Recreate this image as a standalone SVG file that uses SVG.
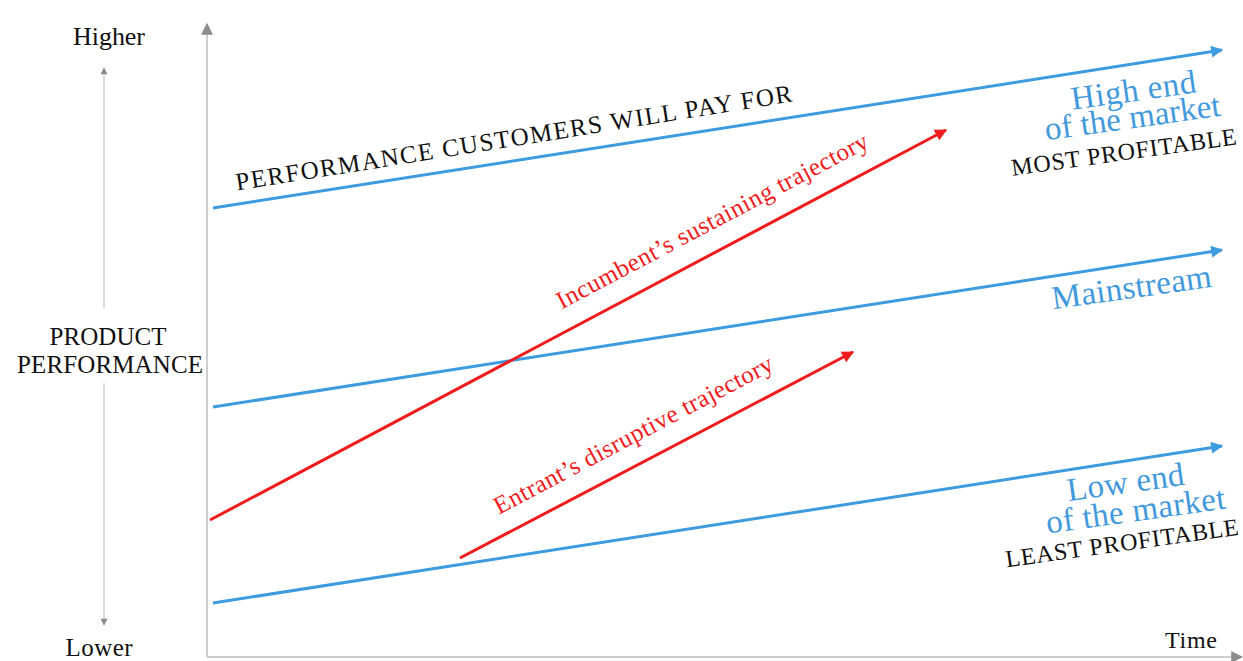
<svg xmlns="http://www.w3.org/2000/svg" width="1243" height="661" viewBox="0 0 1243 661">
  <style>
    text { font-family: "Liberation Serif", "Times New Roman", serif; }
    .lbl { fill: #111; }
    .blu { fill: #4299dc; }
    .red { fill: #ee1c1c; }
    .axis { stroke: #cfcfcf; stroke-width: 2; fill: none; }
    .tick { stroke: #cfcfcf; stroke-width: 1.5; fill: none; }
    .mkt { stroke: #3d9be0; stroke-width: 3; fill: none; marker-end: url(#headBlue); }
    .traj { stroke: #ee1c1c; stroke-width: 3; fill: none; marker-end: url(#headRed); }
  </style>
  <defs>
    <marker id="headBlue" viewBox="0 0 10 10" refX="9" refY="5" markerWidth="20" markerHeight="12" orient="auto" markerUnits="userSpaceOnUse">
      <path d="M0,0 L10,5 L0,10 Z" fill="#3d9be0"/>
    </marker>
    <marker id="headRed" viewBox="0 0 10 10" refX="9" refY="5" markerWidth="20" markerHeight="12" orient="auto" markerUnits="userSpaceOnUse">
      <path d="M0,0 L10,5 L0,10 Z" fill="#ee1c1c"/>
    </marker>
    <marker id="headGray" viewBox="0 0 10 10" refX="9" refY="5" markerWidth="15" markerHeight="12" orient="auto" markerUnits="userSpaceOnUse">
      <path d="M0,0 L10,5 L0,10 Z" fill="#8c8c8c"/>
    </marker>
    <marker id="headSmall" viewBox="0 0 10 10" refX="9" refY="5" markerWidth="8" markerHeight="7" orient="auto" markerUnits="userSpaceOnUse">
      <path d="M0,0 L10,5 L0,10 Z" fill="#8c8c8c"/>
    </marker>
  </defs>

  <rect width="1243" height="661" fill="#ffffff"/>

  <!-- chart axes -->
  <g id="axes">
    <line class="axis" x1="207" y1="657" x2="207" y2="24" marker-end="url(#headGray)"/>
    <line class="axis" x1="207" y1="657" x2="1242" y2="657" marker-end="url(#headGray)"/>
  </g>

  <!-- performance scale at the left -->
  <g id="scale">
    <text class="lbl" x="109" y="45" font-size="26" textLength="72" text-anchor="middle">Higher</text>
    <line class="tick" x1="104" y1="308" x2="104" y2="68" marker-end="url(#headSmall)"/>
    <line class="tick" x1="104" y1="383" x2="104" y2="625" marker-end="url(#headSmall)"/>
    <text class="lbl" x="99" y="656" font-size="25" textLength="67" text-anchor="middle">Lower</text>
    <text class="lbl" x="108" y="345" font-size="25" textLength="117" text-anchor="middle">PRODUCT</text>
    <text class="lbl" x="110" y="373" font-size="25" textLength="186" text-anchor="middle">PERFORMANCE</text>
    <text class="lbl" x="1191" y="648" font-size="24" textLength="52" text-anchor="middle">Time</text>
  </g>

  <!-- market tiers and trajectories -->
  <g id="connectors">
    <line id="high-end" class="mkt" x1="213" y1="208" x2="1222" y2="50"/>
    <line id="mainstream" class="mkt" x1="213" y1="407" x2="1222" y2="250"/>
    <line id="low-end" class="mkt" x1="213" y1="603" x2="1222" y2="446"/>
    <line id="sustaining" class="traj" x1="210" y1="520" x2="946" y2="130"/>
    <line id="disruptive" class="traj" x1="460" y1="558" x2="853" y2="352"/>
  </g>

  <g id="high-end-label">
    <text class="lbl" font-size="25" textLength="563" text-anchor="middle" transform="translate(515,146) rotate(-9.1)">PERFORMANCE CUSTOMERS WILL PAY FOR</text>
    <text class="blu" font-size="33" textLength="126" text-anchor="middle" transform="translate(1135,101) rotate(-8)">High end</text>
    <text class="blu" font-size="33" textLength="177" text-anchor="middle" transform="translate(1134,128) rotate(-8)">of the market</text>
    <text class="lbl" font-size="24" textLength="227" text-anchor="middle" transform="translate(1125,160) rotate(-8)">MOST PROFITABLE</text>
  </g>

  <g id="mainstream-label">
    <text class="blu" font-size="33" textLength="161" text-anchor="middle" transform="translate(1133,298) rotate(-8)">Mainstream</text>
  </g>

  <g id="low-end-label">
    <text class="blu" font-size="33" textLength="118" text-anchor="middle" transform="translate(1127,493) rotate(-8)">Low end</text>
    <text class="blu" font-size="33" textLength="181" text-anchor="middle" transform="translate(1137,521) rotate(-8)">of the market</text>
    <text class="lbl" font-size="24" textLength="235" text-anchor="middle" transform="translate(1123,551) rotate(-8)">LEAST PROFITABLE</text>
  </g>

  <g id="sustaining-label">
    <text class="red" font-size="25" textLength="349" text-anchor="middle" transform="translate(716,228) rotate(-27.8)">Incumbent’s sustaining trajectory</text>
  </g>

  <g id="disruptive-label">
    <text class="red" font-size="25" textLength="312" text-anchor="middle" transform="translate(637,442) rotate(-27.8)">Entrant’s disruptive trajectory</text>
  </g>
</svg>
